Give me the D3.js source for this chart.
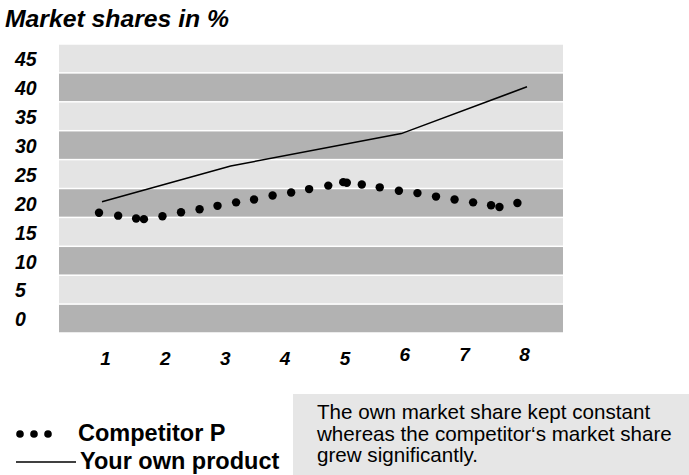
<!DOCTYPE html>
<html>
<head>
<meta charset="utf-8">
<script src="https://cdn.jsdelivr.net/npm/d3@7"></script>
<style>
  html, body { margin: 0; padding: 0; background: #fff; }
  svg { display: block; font-family: "Liberation Sans", Arial, sans-serif; }
</style>
</head>
<body>
<svg id="chart" width="689" height="475"></svg>
<script>
// Period labels along the x axis
const periods = [1, 2, 3, 4, 5, 6, 7, 8];
// Y tick labels (market share, %)
const shareTicks = [0, 5, 10, 15, 20, 25, 30, 35, 40, 45];

// Your own product: period position and share
const ownPeriod = [0.95, 3.1, 5.95, 8.05];
const ownShare  = [20.2, 26.4, 32.0, 40.1];

// Competitor P: sampled period positions and shares
const compPeriod = [0.9, 1.22, 1.52, 1.65, 1.96, 2.27, 2.58, 2.88, 3.19, 3.49,
                    3.8, 4.11, 4.41, 4.73, 4.98, 5.04, 5.29, 5.59, 5.91, 6.22,
                    6.53, 6.84, 7.15, 7.45, 7.59, 7.89];
const compShare  = [18.3, 17.8, 17.3, 17.2, 17.7, 18.4, 18.9, 19.5, 20.1, 20.6,
                    21.3, 21.8, 22.4, 23.0, 23.6, 23.5, 23.2, 22.7, 22.1, 21.7,
                    21.1, 20.6, 20.1, 19.6, 19.3, 20.0];

const legendLabels = ["Competitor P", "Your own product"];
const noteLines = ["The own market share kept constant",
                   "whereas the competitor\u2018s market share",
                   "grew significantly."];

const svg = d3.select("#chart");
const plot = { left: 59, right: 563, top: 44, bottom: 333 };

const x = d3.scaleLinear().domain([1, 8]).range([105, 524]);
const y = d3.scaleLinear().domain([-2.5, 47.5]).range([plot.bottom, plot.top]);

// Title
svg.append("text")
  .attr("x", 5).attr("y", 27)
  .attr("font-size", 24).attr("font-weight", "bold").attr("font-style", "italic")
  .attr("textLength", 224).attr("lengthAdjust", "spacingAndGlyphs")
  .text("Market shares in %");

// Alternating horizontal bands, one per tick
svg.append("g").selectAll("rect")
  .data(shareTicks)
  .join("rect")
  .attr("x", plot.left)
  .attr("width", plot.right - plot.left)
  .attr("y", d => y(d + 2.5) + 0.75)
  .attr("height", d => y(d - 2.5) - y(d + 2.5) - 1.5)
  .attr("fill", (d, i) => i % 2 === 0 ? "#b2b2b2" : "#e4e4e4");

// Y axis labels centred on each band
const yAxis = d3.axisLeft(y).tickValues(shareTicks).tickSize(0).tickPadding(0);
const gy = svg.append("g").attr("transform", "translate(15,1)").call(yAxis);
gy.select(".domain").remove();
gy.selectAll("text")
  .attr("text-anchor", "start")
  .attr("font-family", "Liberation Sans, Arial, sans-serif")
  .attr("font-size", 19.5).attr("font-weight", "bold").attr("font-style", "italic")
  .attr("fill", "#000");

// X axis labels (the later periods sit slightly higher)
const xAxis = d3.axisBottom(x).tickValues(periods).tickFormat(d3.format("d"))
  .tickSize(0).tickPadding(0);
const gx = svg.append("g").attr("transform", "translate(0,351)").call(xAxis);
gx.select(".domain").remove();
gx.selectAll("text")
  .attr("font-family", "Liberation Sans, Arial, sans-serif")
  .attr("font-size", 19).attr("font-weight", "bold").attr("font-style", "italic")
  .attr("fill", "#000")
  .attr("y", d => d >= 6 ? -4 : 0);

// Own product line
const ownPts = ownPeriod.map((p, i) => [p, ownShare[i]]);
svg.append("path")
  .datum(ownPts)
  .attr("fill", "none").attr("stroke", "#000").attr("stroke-width", 1.5)
  .attr("d", d3.line().x(d => x(d[0])).y(d => y(d[1])));

// Competitor dots
const compPts = compPeriod.map((p, i) => [p, compShare[i]]);
svg.append("g").selectAll("circle")
  .data(compPts)
  .join("circle")
  .attr("cx", d => x(d[0])).attr("cy", d => y(d[1]))
  .attr("r", 4.2).attr("fill", "#000");

// Legend
const lg = svg.append("g");
lg.selectAll("circle").data([20, 34, 48]).join("circle")
  .attr("cx", d => d).attr("cy", 434).attr("r", 3.8).attr("fill", "#000");
lg.append("line").attr("x1", 16).attr("x2", 76).attr("y1", 462).attr("y2", 462)
  .attr("stroke", "#000").attr("stroke-width", 1.5);
lg.selectAll("text").data(legendLabels).join("text")
  .attr("x", (d, i) => i === 0 ? 78 : 80)
  .attr("y", (d, i) => i === 0 ? 441 : 469)
  .attr("font-size", 23.5).attr("font-weight", "bold")
  .text(d => d);

// Note box
svg.append("rect").attr("x", 293).attr("y", 394).attr("width", 396).attr("height", 81)
  .attr("fill", "#e6e6e6");
svg.append("g").selectAll("text").data(noteLines).join("text")
  .attr("x", 317).attr("y", (d, i) => 419 + i * 21.5)
  .attr("font-size", 20.6)
  .text(d => d);
</script>
</body>
</html>
